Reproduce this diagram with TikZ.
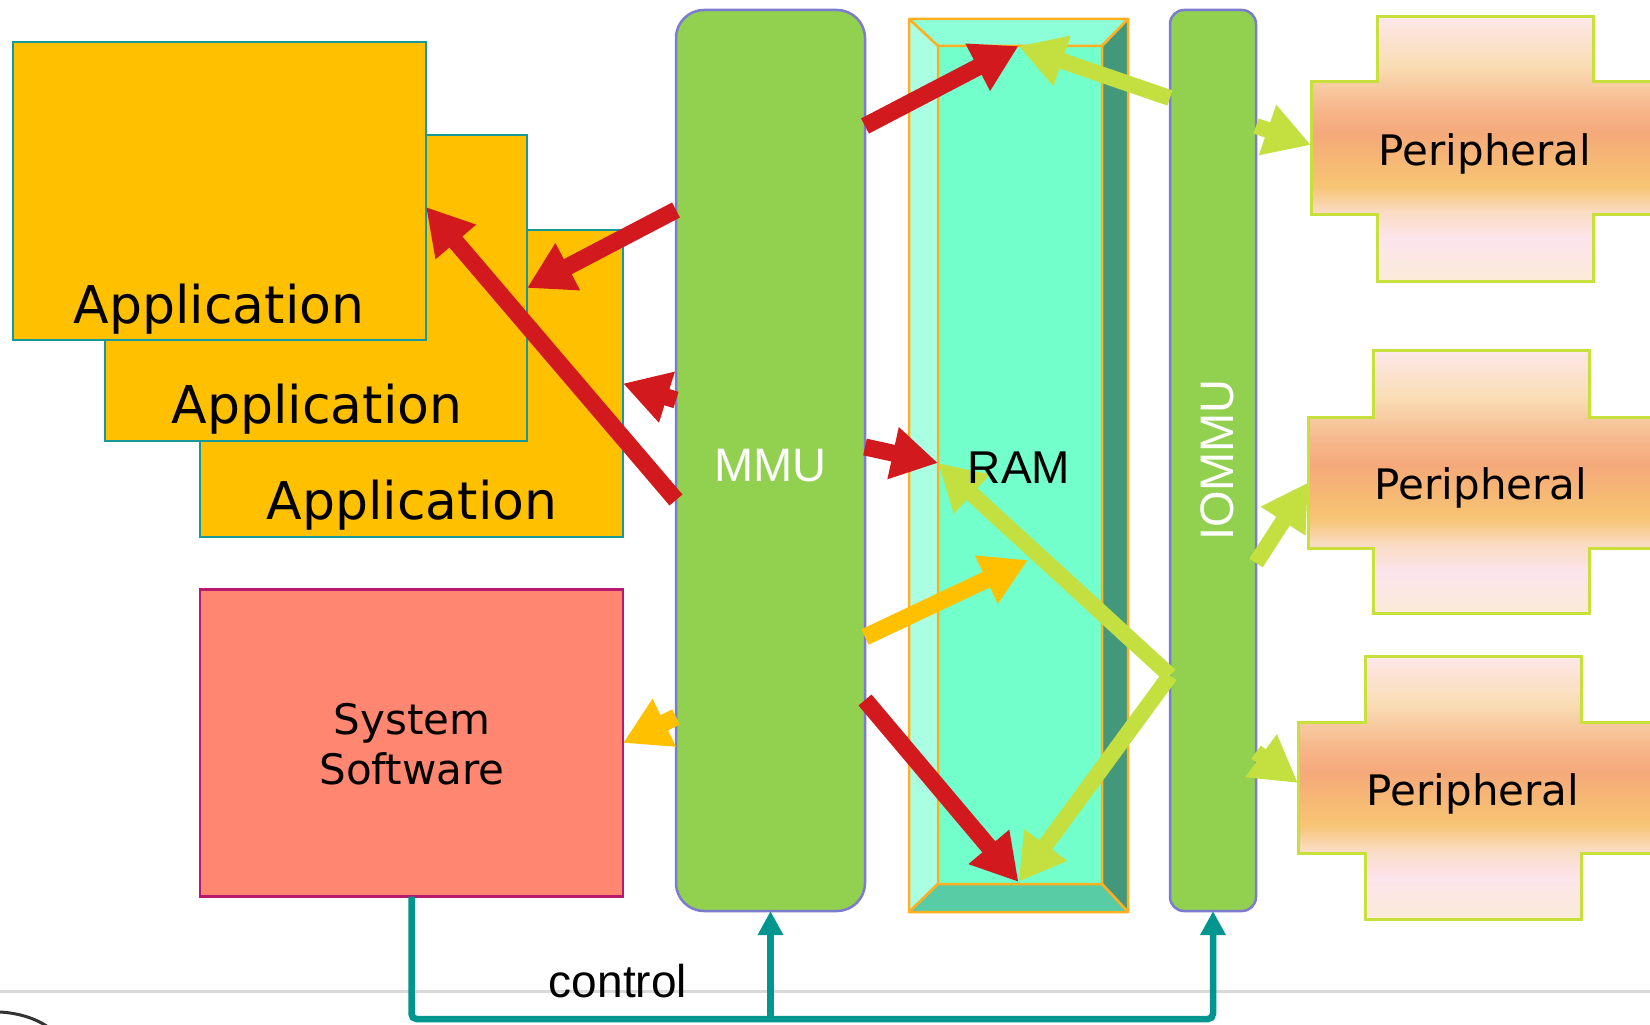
\documentclass[tikz,border=0pt]{standalone}
\usepackage{fontspec}
\setmainfont{DejaVu Sans}
\newfontfamily\arialfont{Liberation Sans}
\usetikzlibrary{arrows.meta,calc}
\definecolor{appfill}{HTML}{FFC000}
\definecolor{appline}{HTML}{17989A}
\definecolor{sysfill}{HTML}{FF8670}
\definecolor{sysline}{HTML}{B8186E}
\definecolor{mmufill}{HTML}{92D050}
\definecolor{mmuline}{HTML}{7B7BD0}
\definecolor{ramc}{HTML}{72FFCC}
\definecolor{ramtop}{HTML}{8DFFD8}
\definecolor{ramleft}{HTML}{AAFFE2}
\definecolor{ramright}{HTML}{43987C}
\definecolor{rambot}{HTML}{58CCA4}
\definecolor{ramline}{HTML}{FFB020}
\definecolor{redarr}{HTML}{D2191E}
\definecolor{orarr}{HTML}{FFC000}
\definecolor{grarr}{HTML}{C4E040}
\definecolor{ctrlc}{HTML}{00968F}
\definecolor{perline}{HTML}{C8E03C}
\definecolor{pA}{HTML}{FDE7EA}
\definecolor{pB}{HTML}{F9DDB5}
\definecolor{pC}{HTML}{F6B88C}
\definecolor{pD}{HTML}{F5A97A}
\definecolor{pE}{HTML}{F6BA74}
\definecolor{pF}{HTML}{F7C474}
\definecolor{pG}{HTML}{FADCC4}
\definecolor{pH}{HTML}{FCE4EC}
\definecolor{pI}{HTML}{FBEBD8}
\pgfdeclareverticalshading{periphshade}{100bp}{color(0bp)=(pI); color(25bp)=(pI); color(33bp)=(pH); color(38bp)=(pG); color(43bp)=(pF); color(47bp)=(pE); color(53bp)=(pD); color(58bp)=(pC); color(66bp)=(pB); color(75bp)=(pA); color(100bp)=(pA)}
\tikzset{
  plainbox/.style={inner sep=0pt, outer sep=0pt},
  appbox/.style={plainbox, draw=appline, line width=2.5pt, fill=appfill},
  sysbox/.style={plainbox, draw=sysline, line width=2.5pt, fill=sysfill},
  mmubox/.style={plainbox, draw=mmuline, line width=2.5pt, fill=mmufill},
  rampart/.style={draw=ramline, line width=2.5pt, line join=round},
  periph/.style={draw=perline, line width=3pt, shading=periphshade},
  area/.style={plainbox},
  apptext/.style={inner sep=0pt, anchor=base, font=\fontsize{52pt}{60pt}\selectfont},
  pertext/.style={inner sep=0pt, anchor=base, font=\fontsize{42pt}{50pt}\selectfont},
  systext/.style={inner sep=0pt, align=center, font=\fontsize{42pt}{50pt}\selectfont},
  armtext/.style={inner sep=0pt, anchor=base, font=\arialfont\fontsize{47pt}{56pt}\selectfont},
  bigarrow/.style={line width=17pt, -{Triangle[length=46pt,width=50pt]}},
  redarrow/.style={bigarrow, draw=redarr},
  orarrow/.style={bigarrow, draw=orarr},
  grarrow/.style={bigarrow, line width=16pt, draw=grarr},
  ctrl/.style={draw=ctrlc, line width=6.5pt, rounded corners=5pt, -{Triangle[length=24pt,width=24pt]}}
}
\begin{document}
\begin{tikzpicture}[x=1pt,y=-1pt]
\useasboundingbox (0,0) rectangle (1650,1025);
\begin{scope}
\clip (0,0) rectangle (1650,1025);
% background slide line and corner arc
\draw[line width=3pt, black!15] (0,991) -- (1650,991);
\draw[line width=3pt, black!80] (0,1012) .. controls (18,1013) and (35,1018) .. (48,1027);

% applications
\node[appbox, minimum width=423pt, minimum height=307pt] (app3) at (411.5,383.5) {};
\node[appbox, minimum width=422pt, minimum height=306pt] (app2) at (316,288) {};
\node[appbox, minimum width=413pt, minimum height=298pt] (app1) at (219.5,191) {};
\node[apptext] (app1t) at (219,323) {Application};
\node[apptext] (app2t) at (317,423) {Application};
\node[apptext] (app3t) at (412,519) {Application};

% system software
\node[sysbox, minimum width=423pt, minimum height=307pt] (sys) at (411.5,743) {};
\node[systext] (syst) at (412,744) {System\\Software};

% MMU and IOMMU
\node[mmubox, rounded corners=28pt, minimum width=189pt, minimum height=901pt] (mmu) at (770.5,460.5) {};
\node[mmubox, rounded corners=14pt, minimum width=86pt, minimum height=901pt] (iommu) at (1213,460.5) {};

% RAM with bevel
\node[plainbox, fill=ramc, minimum width=219pt, minimum height=893pt] (ram) at (1018.5,465.5) {};
\coordinate (rinw) at ($(ram.north west)+(29,27)$);
\coordinate (rine) at ($(ram.north east)+(-26,27)$);
\coordinate (rise) at ($(ram.south east)+(-26,-28)$);
\coordinate (risw) at ($(ram.south west)+(29,-28)$);
\filldraw[rampart, fill=ramtop] (ram.north west) -- (ram.north east) -- (rine) -- (rinw) -- cycle;
\filldraw[rampart, fill=ramleft] (ram.north west) -- (rinw) -- (risw) -- (ram.south west) -- cycle;
\filldraw[rampart, fill=ramright] (ram.north east) -- (ram.south east) -- (rise) -- (rine) -- cycle;
\filldraw[rampart, fill=rambot] (ram.south west) -- (risw) -- (rise) -- (ram.south east) -- cycle;
\draw[rampart] (rinw) rectangle (rise);

% peripherals
\shadedraw[periph] (1377,17) -- (1593,17) -- (1593,82) -- (1665,82) -- (1665,214) -- (1593,214) -- (1593,281) -- (1377,281) -- (1377,214) -- (1311,214) -- (1311,82) -- (1377,82) -- cycle;
\shadedraw[periph] (1373,350) -- (1589,350) -- (1589,417) -- (1665,417) -- (1665,548) -- (1589,548) -- (1589,613) -- (1373,613) -- (1373,548) -- (1308,548) -- (1308,417) -- (1373,417) -- cycle;
\shadedraw[periph] (1365,656) -- (1581,656) -- (1581,722) -- (1665,722) -- (1665,853) -- (1581,853) -- (1581,919) -- (1365,919) -- (1365,853) -- (1298,853) -- (1298,722) -- (1365,722) -- cycle;
\node[area, minimum width=354pt, minimum height=132pt] (p1) at (1488,148) {};
\node[area, minimum width=354pt, minimum height=131pt] (p2) at (1485,482.5) {};
\node[area, minimum width=364pt, minimum height=131pt] (p3) at (1480,787.5) {};
\node[pertext] (p1t) at (1485,165) {Peripheral};
\node[pertext] (p2t) at (1481,499) {Peripheral};
\node[pertext] (p3t) at (1473,805) {Peripheral};

% red arrows (MMU)
\draw[redarrow] ([yshift=334.5pt]mmu.east) -- ([yshift=-27pt]ram.north);
\draw[redarrow] ([yshift=250.5pt]mmu.west) -- (app2.east);
\draw[redarrow] ([yshift=-39.5pt]mmu.west) -- ([yshift=-16pt]app1.east);
\draw[redarrow] ([yshift=60.5pt]mmu.west) -- (app3.east);
\draw[redarrow] ([yshift=13.5pt]mmu.east) -- ([xshift=29pt,yshift=2.5pt]ram.west);
\draw[redarrow] ([yshift=-239.5pt]mmu.east) -- ([yshift=30pt]ram.south);
% orange arrows
\draw[orarrow] ([yshift=-176.5pt]mmu.east) -- ([xshift=9.5pt,yshift=-94.5pt]ram.center);
\draw[orarrow] ([yshift=-256.5pt]mmu.west) -- (sys.east);
% green arrows (IOMMU)
\draw[grarrow] ([yshift=362.5pt]iommu.west) -- ([yshift=-27pt]ram.north);
\draw[grarrow] ([yshift=-215pt]iommu.west) -- ([xshift=29pt,yshift=2.5pt]ram.west);
\draw[grarrow] ([yshift=-215pt]iommu.west) -- ([yshift=30pt]ram.south);
\draw[grarrow] ([yshift=334.5pt]iommu.east) -- ([yshift=3pt]p1.west);
\draw[grarrow] ([yshift=-102.5pt]iommu.east) -- (p2.west);
\draw[grarrow] ([yshift=-291.5pt]iommu.east) -- ([yshift=4.5pt]p3.west);

% control lines
\draw[ctrl] (sys.south) |- ([yshift=-108pt]iommu.south) -- (iommu.south);
\draw[ctrl] ([yshift=-108pt]mmu.south) -- (mmu.south);

% labels
\node[armtext, white] (mmut) at (770.5,481) {MMU};
\node[armtext, font=\arialfont\fontsize{46pt}{56pt}\selectfont] (ramt) at (1019,483) {RAM};
\node[armtext, white, rotate=90] (iommut) at (1233,460) {IOMMU};
\node[armtext, font=\arialfont\fontsize{46pt}{56pt}\selectfont] (ctrlt) at (618,997) {control};
\end{scope}
\end{tikzpicture}
\end{document}
